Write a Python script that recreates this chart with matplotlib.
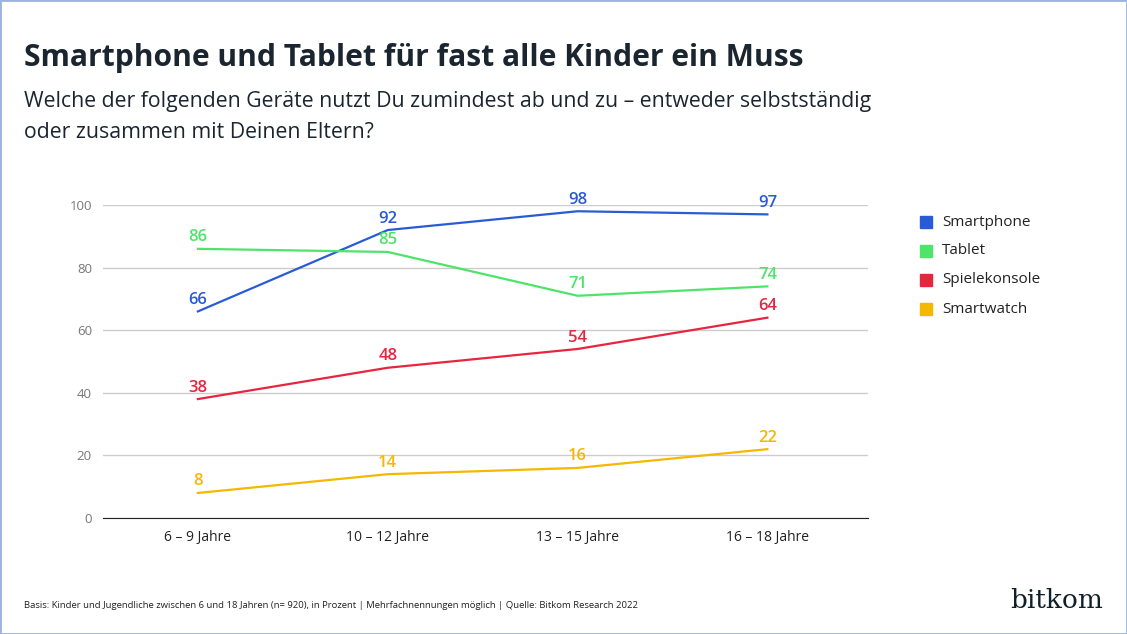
import matplotlib
matplotlib.use("Agg")
import matplotlib.pyplot as plt
from matplotlib.patches import Rectangle

categories = ["6 – 9 Jahre", "10 – 12 Jahre", "13 – 15 Jahre", "16 – 18 Jahre"]
smartphone = [66, 92, 98, 97]
tablet = [86, 85, 71, 74]
spielekonsole = [38, 48, 54, 64]
smartwatch = [8, 14, 16, 22]
series = [("Smartphone", smartphone, "#2a5bd7"),
          ("Tablet", tablet, "#4ee46a"),
          ("Spielekonsole", spielekonsole, "#e8253f"),
          ("Smartwatch", smartwatch, "#f5b800")]

plt.rcParams['font.family'] = ['Open Sans', 'DejaVu Sans']
fig = plt.figure(figsize=(11.27, 6.34), dpi=100)
fig.patches.append(Rectangle((0, 0), 1, 1, transform=fig.transFigure, fill=False,
                             edgecolor="#9bb3dd", linewidth=2))
ax = fig.add_axes([103/1127, 1-518/634, (868-103)/1127, (518-205)/634])
x = list(range(len(categories)))
for name, vals, c in series:
    ax.plot(x, vals, color=c, linewidth=1.6, clip_on=False)
    for xi, v in zip(x, vals):
        ax.annotate(str(v), (xi, v), xytext=(0, 2.5), textcoords="offset points",
                    ha="center", va="bottom", color=c, fontsize=12, fontweight="semibold")
ax.set_xlim(-0.5, 3.53)
ax.set_ylim(0, 100)
ax.set_yticks([0, 20, 40, 60, 80, 100])
ax.grid(axis="y", color="#cccccc", linewidth=1)
ax.set_axisbelow(True)
for s in ["top", "right", "left"]:
    ax.spines[s].set_visible(False)
ax.spines["bottom"].set_color("#222222")
ax.tick_params(axis="y", length=0, labelsize=9.5, labelcolor="#777777", pad=8)
ax.tick_params(axis="x", length=0, labelsize=10, labelcolor="#222222", pad=9)
ax.set_xticks(x)
ax.set_xticklabels(categories)

for i, (name, vals, c) in enumerate(series):
    y = 1 - (222 + i*29)/634
    fig.patches.append(Rectangle((920/1127, y - 0.0095), 12/1127, 12/634,
                                 transform=fig.transFigure, color=c))
    fig.text(942/1127, y, name, fontsize=11, va="center", color="#222222")

fig.text(24/1127, 1-58/634, "Smartphone und Tablet für fast alle Kinder ein Muss",
         fontsize=21.6, fontweight="bold", color="#1a2530", va="center")
fig.text(24/1127, 1-101/634, "Welche der folgenden Geräte nutzt Du zumindest ab und zu – entweder selbstständig",
         fontsize=15.3, color="#1a2530", va="center")
fig.text(24/1127, 1-133/634, "oder zusammen mit Deinen Eltern?",
         fontsize=15.3, color="#1a2530", va="center")
fig.text(24/1127, 1-606/634, "Basis: Kinder und Jugendliche zwischen 6 und 18 Jahren (n= 920), in Prozent | Mehrfachnennungen möglich | Quelle: Bitkom Research 2022",
         fontsize=6.8, color="#222222", va="center")
fig.text(1103/1127, 1-600/634, "bitkom", fontsize=19, family="DejaVu Serif",
         color="#102028", ha="right", va="center")
fig.savefig("out.png", dpi=100)
